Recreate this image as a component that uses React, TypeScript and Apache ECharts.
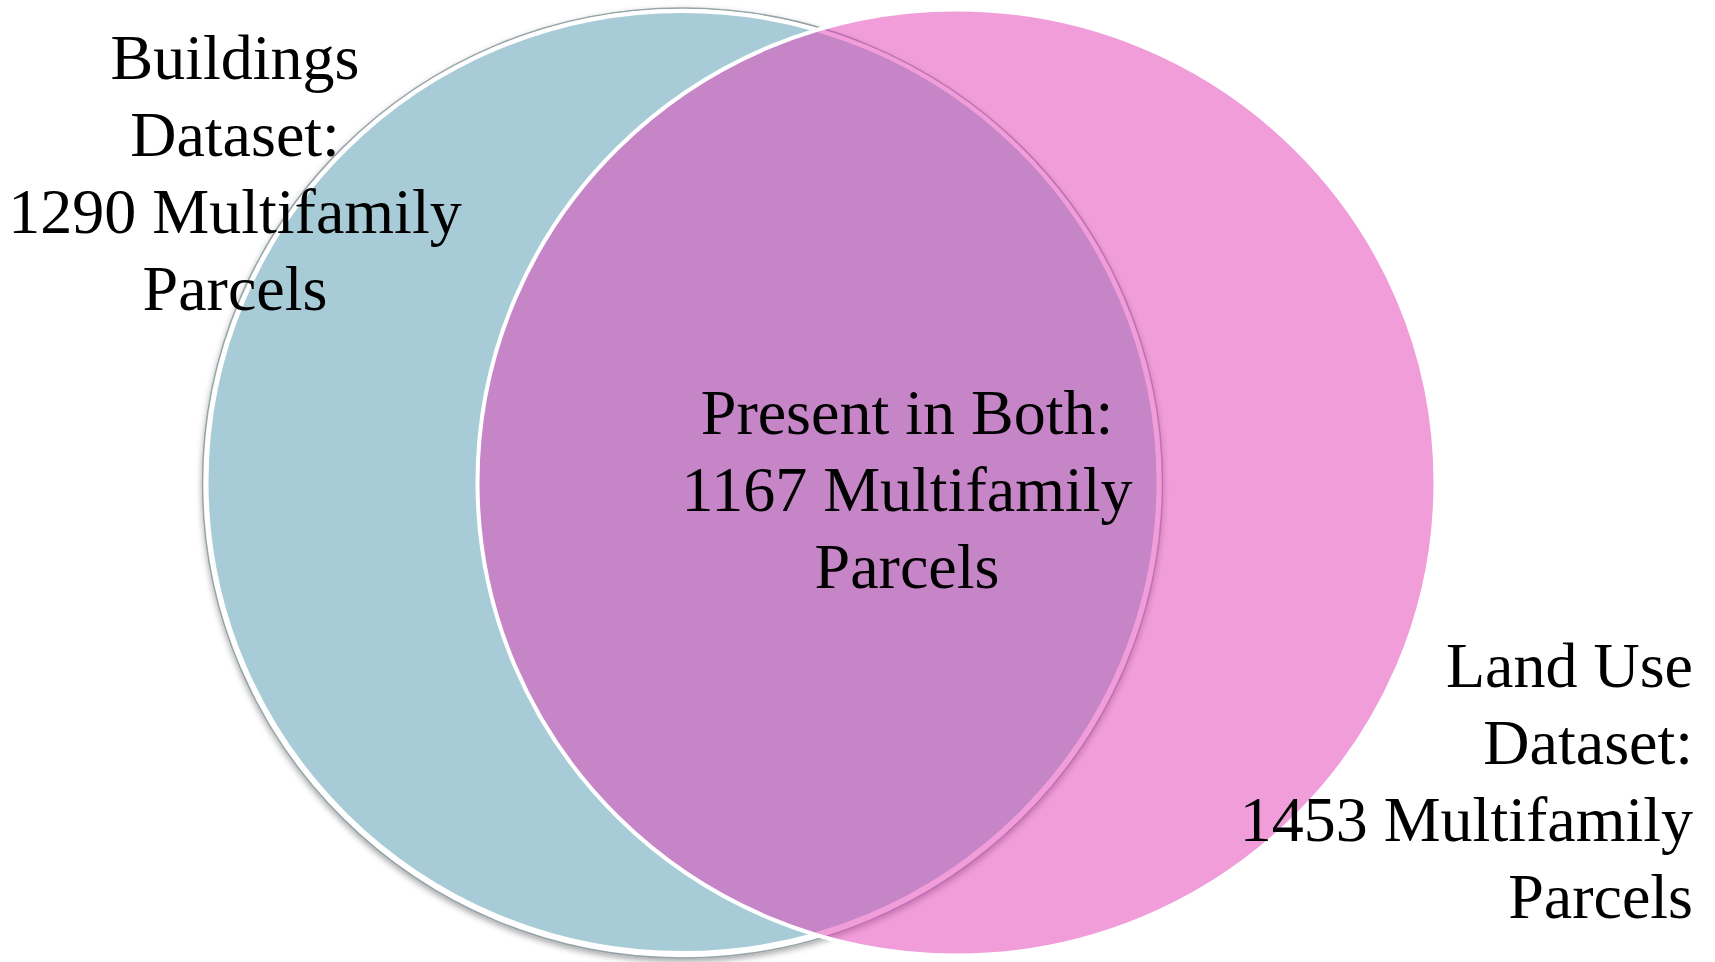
import React, { useEffect, useRef } from "react";
import * as echarts from "echarts";

// ---- data ----
const setNames = ["Buildings Dataset", "Land Use Dataset"];
const setCounts = [1290, 1453];
const overlapName = "Present in Both";
const overlapCount = 1167;
const unitLabel = "Multifamily";
const unitTail = "Parcels";

// ---- layout ----
const W = 1715;
const H = 962;
const FONT = "64px 'Liberation Serif', 'Times New Roman', serif";
const LH = 77;

const leftLines = ["Buildings", "Dataset:", `${setCounts[0]} ${unitLabel}`, unitTail];
const rightLines = ["Land Use", "Dataset:", `${setCounts[1]} ${unitLabel}`, unitTail];
const midLines = [`${overlapName}:`, `${overlapCount} ${unitLabel}`, unitTail];

function textLines(lines: string[], x: number, firstBaseline: number, align: string) {
  return lines.map((t, i) => ({
    type: "text",
    z: 10,
    style: {
      text: t,
      x,
      y: firstBaseline + i * LH - 22,
      font: FONT,
      fill: "#000",
      textAlign: align,
      textVerticalAlign: "middle",
    },
  }));
}

export default function App() {
  const ref = useRef<HTMLDivElement>(null);
  useEffect(() => {
    document.body.style.margin = "0";
    const chart = echarts.init(ref.current!, null, { renderer: "svg" });
    const L = { cx: 682.5, cy: 482, rx: 476, ry: 471 };
    const R = { cx: 956.5, cy: 482.5, rx: 479, ry: 473 };
    chart.setOption({
      animation: false,
      backgroundColor: "#fff",
      graphic: [
        {
          type: "ellipse",
          z: 1,
          shape: { cx: L.cx, cy: L.cy + 1, rx: L.rx + 4, ry: L.ry + 4 },
          style: {
            fill: "#fff",
            stroke: "rgba(140,155,160,0.9)",
            lineWidth: 1.5,
            shadowBlur: 6,
            shadowOffsetY: 3,
            shadowColor: "rgba(0,0,0,0.35)",
          },
        },
        {
          type: "ellipse",
          z: 2,
          shape: { cx: L.cx, cy: L.cy, rx: L.rx, ry: L.ry },
          style: { fill: "#A8CCD7", stroke: "#fff", lineWidth: 4 },
        },
        {
          type: "ellipse",
          z: 3,
          shape: { cx: R.cx, cy: R.cy, rx: R.rx, ry: R.ry },
          style: { fill: "rgba(226,67,185,0.52)", stroke: "#fff", lineWidth: 4 },
        },
        ...textLines(leftLines, 235, 79, "center"),
        ...textLines(midLines, 907, 434, "center"),
        ...textLines(rightLines, 1693, 687, "right"),
      ],
    });
    return () => chart.dispose();
  }, []);
  return <div ref={ref} style={{ width: W, height: H }} />;
}
